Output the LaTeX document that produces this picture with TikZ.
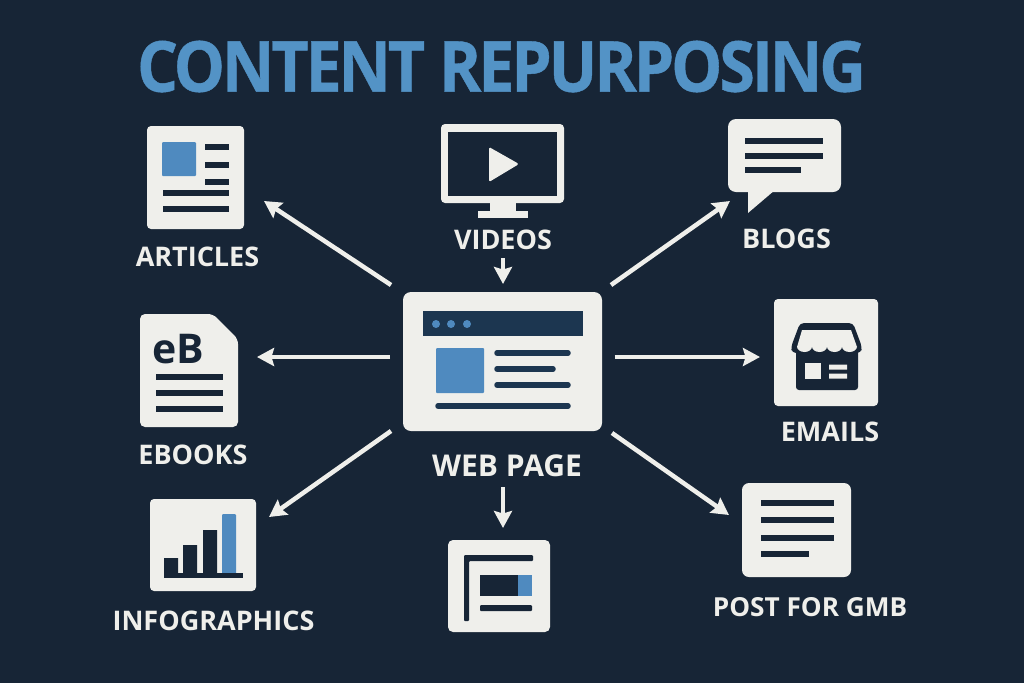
\documentclass[tikz,border=0pt]{standalone}
\usepackage{fontspec}
\setmainfont{Open Sans}
\newfontfamily\titlef[LetterSpace=-5,BoldFeatures={FakeBold=0.6}]{Open Sans}
\usetikzlibrary{arrows.meta}
\definecolor{bgc}{HTML}{172536}
\definecolor{cardc}{HTML}{EFEFEB}
\definecolor{bluec}{HTML}{4F8ABF}
\definecolor{titlec}{HTML}{5393C6}
\definecolor{navyc}{HTML}{1C3650}
\definecolor{darkc}{HTML}{172536}
\newcommand{\titletext}{\titlef\fontsize{70}{70}\selectfont\bfseries CONTENT REPURPOSING}
\tikzset{
 card/.style={fill=cardc,rounded corners=5pt,inner sep=0pt,outer sep=0pt},
 lbl/.style={text=cardc,font=\fontsize{27}{27}\selectfont\bfseries,inner sep=0pt},
 flow/.style={draw=cardc,line width=4.5pt,-{Stealth[length=17pt,width=18pt,inset=2.5pt]}},
 ln/.style={draw=darkc,line width=6pt},
 dk/.style={fill=darkc},
 nv/.style={fill=navyc},
 bl/.style={fill=bluec,rounded corners=1pt},
}
\begin{document}
\begin{tikzpicture}[x=1pt,y=-1pt]
\useasboundingbox (0,0) rectangle (1024,683);
\fill[bgc] (0,0) rectangle (1024,683);
\node[inner sep=0pt,text=titlec] (title) at (501.5,66.5) {\resizebox{729pt}{51pt}{\titletext}};
% nodes
\node[card,minimum width=199pt,minimum height=139pt,rounded corners=8pt] (web) at (502.5,361.5) {};
\node[card,minimum width=97pt,minimum height=103pt,rounded corners=4pt] (articles) at (195.5,177.5) {};
\node[card,minimum width=106pt,minimum height=92pt,rounded corners=4pt] (info) at (203,545) {};
\node[card,minimum width=113pt,minimum height=73pt,rounded corners=8pt] (blogs) at (784.5,155.5) {};
\node[card,minimum width=104pt,minimum height=107pt,rounded corners=4pt] (emails) at (826,352.5) {};
\node[card,minimum width=109pt,minimum height=94pt,rounded corners=7pt] (gmb) at (796.5,530) {};
\node[card,minimum width=102pt,minimum height=92pt] (news) at (499,586) {};
\node[inner sep=0pt,outer sep=0pt,minimum width=98pt,minimum height=113pt] (ebook) at (189,370.5) {};
\node[inner sep=0pt,outer sep=0pt,minimum width=123pt,minimum height=94pt] (video) at (502.5,171) {};
% labels
\node[lbl] (lArticles) at (197.5,256.5) {ARTICLES};
\node[lbl] (lEbooks) at (193,454.5) {EBOOKS};
\node[lbl] (lInfo) at (213.5,621) {INFOGRAPHICS};
\node[lbl] (lVideos) at (503,240) {VIDEOS};
\node[lbl,font=\fontsize{30}{30}\selectfont\bfseries] (lWeb) at (507,465.5) {WEB PAGE};
\node[lbl] (lBlogs) at (786.5,239) {BLOGS};
\node[lbl] (lEmails) at (830,432) {EMAILS};
\node[lbl,font=\fontsize{26.2}{27}\selectfont\bfseries] (lGmb) at (810,607) {POST FOR GMB};
% monitor
\fill[cardc,rounded corners=4pt] (441,124) rectangle (564,203);
\fill[bgc] (448,132) rectangle (557,196);
\fill[cardc] (490,203) rectangle (516,212);
\fill[cardc] (478,211) rectangle (528,218);
\fill[cardc,rounded corners=1.5pt] (489,147) -- (519,164) -- (489,182) -- cycle;
% web page
\fill[navyc] (423,311) rectangle (583,336);
\foreach \x in {436,451,467} \fill[bluec] (\x,324) circle (4);
\fill[bl] (436,348) rectangle (484,393);
\draw[navyc,line width=5.5pt,line cap=round] (497,353) -- (568,353) (497,369) -- (553,369) (497,385) -- (568,385) (438,406) -- (568,406);
% articles
\fill[bl] (162,142) rectangle (196,176);
\draw[ln] (205,147) -- (229,147) (205,165) -- (229,165) (205,182) -- (229,182) (163,193) -- (229,193) (163,209) -- (229,209);
% ebook
\fill[cardc,rounded corners=5pt] (ebook.north west) -- (213,314) -- (238,339) -- (ebook.south east) -- (ebook.south west) -- cycle;
\node[inner sep=0pt,anchor=base,text=darkc,font=\fontsize{41}{41}\selectfont\bfseries] (eb) at (178.5,363) {eB};
\draw[ln] (156,377) -- (223,377) (156,393) -- (223,393) (156,409) -- (223,409);
% chart
\fill[dk] (164,558) rectangle (178,575) (183,545) rectangle (197,575) (203,530) rectangle (217,575);
\fill[bl] (222,514) rectangle (236,575);
\fill[dk] (164,573) rectangle (243,578);
% blog
\fill[cardc] (748,190) -- (748,213) -- (775,190) -- cycle;
\draw[ln] (745,141) -- (823,141) (745,156) -- (823,156) (745,170) -- (801,170);
% store
\fill[dk,rounded corners=3pt] (796,345) rectangle (858,390);
\fill[dk,rounded corners=4pt] (800,323) -- (853,323) -- (862,347) -- (861,353) -- (792,353) -- (791,347) -- cycle;
\fill[cardc] (802,330) -- (851,330) -- (857,347) -- (797,347) -- cycle;
\fill[cardc] (797,346.5) arc[start angle=180,end angle=0,x radius=7.5,y radius=5.5] arc[start angle=180,end angle=0,x radius=7.5,y radius=5.5] arc[start angle=180,end angle=0,x radius=7.5,y radius=5.5] arc[start angle=180,end angle=0,x radius=7.5,y radius=5.5] -- cycle;
\fill[cardc] (805,363) rectangle (821,379);
\fill[cardc] (829,364.5) rectangle (847,369.5) (829,373.5) rectangle (847,378.5);
% gmb
\draw[ln] (761,503) -- (834,503) (761,520) -- (834,520) (761,538) -- (834,538) (761,554) -- (809,554);
% news
\fill[dk,rounded corners=1pt] (464,555) -- (533,555) -- (533,561) -- (469,561) -- (469,621) -- (464,621) -- cycle;
\fill[dk] (480,575) rectangle (518,596);
\fill[bluec] (518,575) rectangle (532,596);
\fill[dk,rounded corners=1pt] (480,605) rectangle (532,611);
% connectors
\draw[flow] ([shift={(-12,-7)}]web.north west) -- ([shift={(20,-28)}]articles.south east);
\draw[flow] ([shift={(-13,-4.5)}]web.west) -- ([shift={(19,-13.5)}]ebook.east);
\draw[flow] ([shift={(-12,0)}]web.south west) -- ([shift={(13,-74)}]info.south east);
\draw[flow] ([shift={(4,-53)}]news.north) -- ([shift={(4,-12)}]news.north);
\draw[flow] ([shift={(10,2)}]web.south east) -- ([shift={(-13,32)}]gmb.north west);
\draw[flow] ([shift={(12.5,-4.5)}]web.east) -- ([shift={(-14,4.5)}]emails.west);
\draw[flow] ([shift={(9,-7)}]web.north east) -- ([shift={(2,9)}]blogs.south west);
\draw[flow] ([shift={(.5,-34)}]web.north) -- ([shift={(.5,-8)}]web.north);
\end{tikzpicture}
\end{document}
